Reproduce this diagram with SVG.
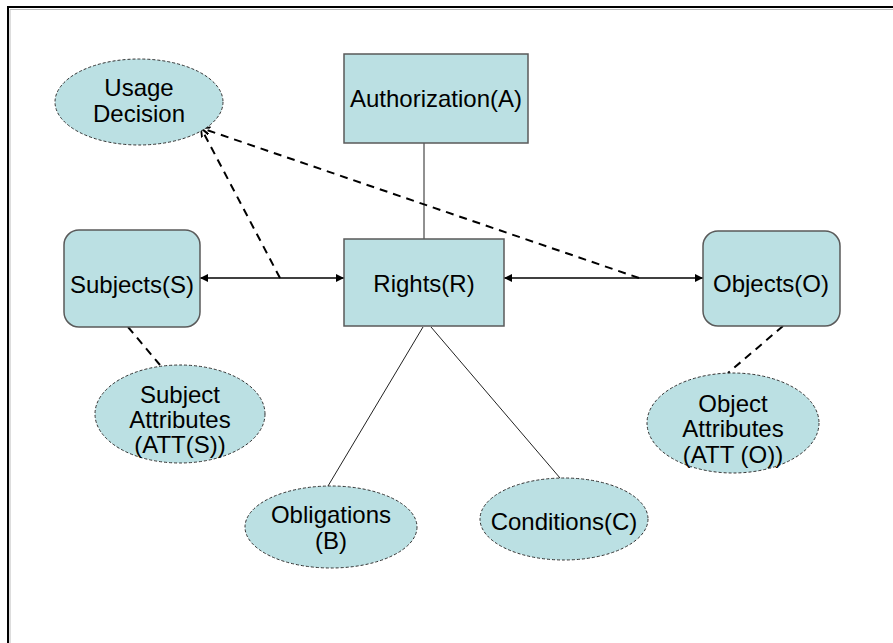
<svg xmlns="http://www.w3.org/2000/svg" width="893" height="643" viewBox="0 0 893 643">
  <style>
    .box { fill: #bbe0e3; stroke: #5a5a5a; stroke-width: 1.5; }
    .oval { fill: #bbe0e3; stroke: #333; stroke-width: 1; stroke-dasharray: 3 2; }
    .lbl { font-family: "Liberation Sans", Arial, sans-serif; font-size: 24px; fill: #000; text-anchor: middle; }
    .solid { stroke: #222; stroke-width: 1; fill: none; }
    .arrow { stroke: #000; stroke-width: 1.5; fill: none; }
    .dash { stroke: #000; stroke-width: 2; stroke-dasharray: 8 6; fill: none; }
  </style>
  <defs>
    <marker id="head" viewBox="0 0 10 10" refX="10" refY="5" markerWidth="8" markerHeight="8" markerUnits="userSpaceOnUse" orient="auto-start-reverse">
      <path d="M0,0 L10,5 L0,10 z" fill="#000"/>
    </marker>
    <marker id="vhead" viewBox="0 0 10 10" refX="10" refY="5" markerWidth="9" markerHeight="9" markerUnits="userSpaceOnUse" orient="auto">
      <path d="M0,1 L10,5 L0,9" fill="none" stroke="#000" stroke-width="2"/>
    </marker>
  </defs>

  <rect x="0" y="0" width="893" height="643" fill="#fff"/>
  <!-- slide frame -->
  <rect x="8" y="7" width="900" height="700" fill="none" stroke="#000" stroke-width="2"/>
  <path d="M10,650 V9.5 H900" fill="none" stroke="#bbb" stroke-width="1"/>

  <g id="connectors">
    <line class="solid" x1="424" y1="143" x2="424" y2="239"/>
    <line class="solid" x1="423" y1="327" x2="328" y2="486"/>
    <line class="solid" x1="431" y1="327" x2="560" y2="478"/>
    <line class="arrow" x1="200" y1="278" x2="344" y2="278" marker-start="url(#head)" marker-end="url(#head)"/>
    <line class="arrow" x1="504" y1="278" x2="703" y2="278" marker-start="url(#head)" marker-end="url(#head)"/>
    <line class="dash" x1="280" y1="278" x2="201" y2="128" marker-end="url(#vhead)"/>
    <line class="dash" x1="639" y1="278" x2="201" y2="128" marker-end="url(#vhead)"/>
    <line class="dash" x1="128" y1="327" x2="160" y2="365"/>
    <line class="dash" x1="783" y1="326" x2="728" y2="373"/>
  </g>

  <g id="usage-decision">
    <ellipse class="oval" cx="139" cy="102" rx="84" ry="43"/>
    <text class="lbl" x="139" y="96">Usage</text>
    <text class="lbl" x="139" y="122">Decision</text>
  </g>

  <g id="authorization">
    <rect class="box" x="344" y="54" width="184" height="89"/>
    <text class="lbl" x="436" y="107">Authorization(A)</text>
  </g>

  <g id="rights">
    <rect class="box" x="344" y="239" width="160" height="87"/>
    <text class="lbl" x="424" y="292">Rights(R)</text>
  </g>

  <g id="subjects">
    <rect class="box" x="64" y="230" width="136" height="97" rx="15" ry="15"/>
    <text class="lbl" x="132" y="293">Subjects(S)</text>
  </g>

  <g id="objects">
    <rect class="box" x="703" y="231" width="137" height="95" rx="15" ry="15"/>
    <text class="lbl" x="771" y="292">Objects(O)</text>
  </g>

  <g id="subject-attributes">
    <ellipse class="oval" cx="180" cy="414" rx="85" ry="49"/>
    <text class="lbl" x="180" y="403">Subject</text>
    <text class="lbl" x="180" y="428">Attributes</text>
    <text class="lbl" x="180" y="453">(ATT(S))</text>
  </g>

  <g id="object-attributes">
    <ellipse class="oval" cx="733" cy="423" rx="86" ry="50"/>
    <text class="lbl" x="733" y="412">Object</text>
    <text class="lbl" x="733" y="437">Attributes</text>
    <text class="lbl" x="733" y="463">(ATT (O))</text>
  </g>

  <g id="obligations">
    <ellipse class="oval" cx="331" cy="527" rx="86" ry="41"/>
    <text class="lbl" x="331" y="523">Obligations</text>
    <text class="lbl" x="331" y="549">(B)</text>
  </g>

  <g id="conditions">
    <ellipse class="oval" cx="564" cy="519" rx="84" ry="41"/>
    <text class="lbl" x="564" y="530">Conditions(C)</text>
  </g>
</svg>
